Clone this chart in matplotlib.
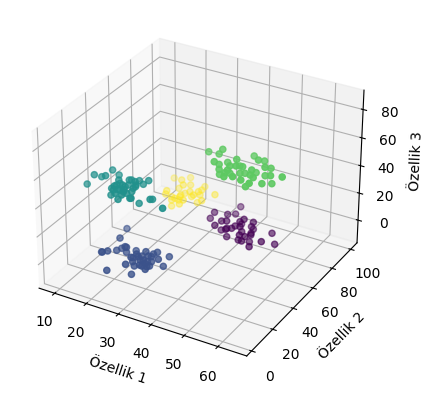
import matplotlib
matplotlib.use('Agg')
import matplotlib.pyplot as plt

W, H = 433, 396

# Cluster 0 (purple)
px = [36.5,34.9,33.7,39.1,37.5,37.9,38.5,41.1,40.6,38.3,42.3,42.4,42.0,45.1,40.9,44.3,44.6,47.3,45.2,47.6,48.3,47.6,51.1,47.7,45.3,45.4,48.9,47.6,54.0,52.8,54.8,43.0,44.4]
py = [90.9,69.8,69.4,57.1,74.6,81.3,65.5,62.3,64.1,65.8,57.6,63.1,59.6,66.7,77.8,65.3,66.1,55.2,60.8,56.4,57.4,64.2,52.6,67.6,73.6,75.2,61.5,65.5,55.1,69.8,66.0,64.7,64.9]
pz = [-1,8,3,10,5,1,7,11,4,0,9,6,2,12,-2,7,3,10,1,5,8,-1,6,11,2,-1,8,3,10,5,1,7,11]
# Cluster 1 (blue)
bx = [17.9,22.3,20.1,23.7,23.7,22.8,25.4,27.4,26.1,26.4,32.2,33.9,36.3,31.4,26.8,31.0,30.2,34.2,31.6,33.3,36.6,36.3,27.1,31.6,30.7,31.1,33.8,32.8,36.6,35.1,33.8,32.3,34.5,20.3,31.8,30.7,30.7,33.5,36.0]
by = [37.9,19.5,10.0,4.9,12.6,19.4,15.2,10.9,14.4,22.0,14.2,19.5,23.1,3.5,18.1,10.8,16.2,10.5,22.5,15.9,12.4,17.6,-5.4,-1.8,8.1,4.4,3.9,11.5,2.3,5.1,12.6,8.7,5.4,8.9,16.4,10.3,6.8,15.3,-0.4]
bz = [6,15,10,17,12,8,14,18,11,7,16,13,9,19,5,14,10,17,8,12,15,6,13,18,9,6,15,10,17,12,8,14,18,11,7,16,13,9,19]
# Cluster 2 (teal)
tx = [10.4,13.1,13.3,16.8,14.7,16.0,19.8,22.1,19.3,19.4,23.5,24.6,20.9,26.1,19.5,22.2,21.8,25.2,22.3,25.8,27.2,22.3,25.6,29.2,25.4,27.7,32.6,31.2,38.5,19.9,18.6,25.3,26.2,24.2,19.3,24.4,21.7,20.7,27.1,17.7]
ty = [24.8,23.9,29.6,23.5,35.3,37.3,26.5,16.3,21.6,20.6,13.0,12.3,24.4,12.9,32.7,28.9,29.2,25.6,37.5,31.0,31.8,34.0,21.4,10.6,20.2,21.7,17.4,23.5,11.2,24.3,30.8,17.8,11.0,26.6,26.5,18.1,24.5,35.1,20.9,27.3]
tz = [42,51,46,53,48,44,50,54,47,43,52,49,45,55,41,50,46,53,44,48,51,42,49,54,45,42,51,46,53,48,44,50,54,47,43,52,49,45,55,41]
# Cluster 3 (green)
gx = [38.1,44.1,42.6,46.2,46.1,46.0,49.5,52.5,47.0,46.9,51.8,49.8,49.7,54.8,48.6,52.7,52.3,56.7,52.7,55.7,55.9,54.3,57.4,59.7,56.5,49.6,54.9,54.7,58.9,58.7,57.8,61.1,65.4,60.1,60.9,50.4,49.9]
gy = [54.2,48.7,50.0,34.3,39.1,47.4,44.8,34.6,36.3,37.0,25.7,35.3,37.9,24.2,50.8,40.2,39.0,25.7,42.5,37.6,38.4,47.9,35.0,23.8,30.8,61.2,48.0,54.6,41.2,47.7,45.1,39.3,36.1,34.5,41.4,35.6,32.6]
gz = [64,73,68,75,70,66,72,76,69,65,74,71,67,77,63,72,68,75,66,70,73,64,71,76,67,64,73,68,75,70,66,72,76,69,65,74,71]
# Cluster 4 (yellow)
yx = [10.2,16.1,15.7,18.7,18.6,15.2,21.1,16.7,14.7,15.4,20.1,19.7,18.8,23.7,17.3,22.0,21.4,24.3,21.1,22.8,28.4,23.0,26.1,24.4,18.5,16.0,20.2,23.0]
yy = [104.8,94.7,104.7,88.5,96.0,94.7,87.8,78.4,83.2,86.9,76.2,82.2,83.5,73.5,81.2,74.8,88.5,86.5,102.7,94.4,90.3,89.3,84.2,81.3,90.8,85.1,81.6,92.0]
yz = [-6,3,-2,5,0,-4,2,6,-1,-5,4,1,-3,7,-7,2,-2,5,-4,0,3,-6,1,6,-3,-6,3,-2]

xs = px + bx + tx + gx + yx
ys = py + by + ty + gy + yy
zs = pz + bz + tz + gz + yz
labels = [0]*len(px) + [1]*len(bx) + [2]*len(tx) + [3]*len(gx) + [4]*len(yx)

fig = plt.figure(figsize=(W/100, H/100), dpi=100)
cx, cy = 196, H - 194.5
ax = fig.add_axes([(cx-248)/W, (cy-184.8)/H, 496/W, 369.6/H], projection='3d')
ax.scatter(xs, ys, zs, c=labels, cmap='viridis')
ax.set_xlim(5, 68.4)
ax.set_ylim(-4.5, 107)
ax.set_zlim(-17, 93.5)
ax.set_xlabel('Özellik 1')
ax.set_ylabel('Özellik 2')
ax.set_zlabel('Özellik 3')
fig.savefig('out.png', dpi=100)
